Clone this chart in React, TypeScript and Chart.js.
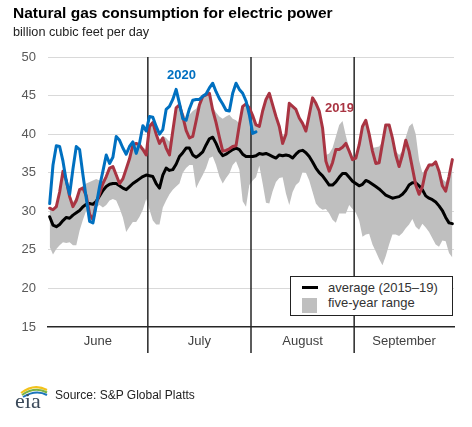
import React, { useEffect, useRef } from "react";
import { Chart, registerables } from "chart.js";

Chart.register(...registerables);

const FONT = "'Liberation Sans', Arial, Helvetica, sans-serif";

const monthNames = ["June", "July", "August", "September"];
const monthLengths = [30, 31, 31, 30];
const yTickValues = [15, 20, 25, 30, 35, 40, 45, 50];

// daily values, June 1 onward (billion cubic feet per day)
const series2020 = [
  31, 36, 38.5, 38.4, 36.5, 33.9, 32.2, 35.5, 38.4, 38, 34.7, 31.7, 28.7, 28.5, 30.8, 33.2, 35.2, 37.3, 36.2, 37,
  39.7, 39.2, 38.2, 37.4, 38.4, 39, 37.5, 38.8, 41.1, 40.4,
  42.3, 42.2, 41, 40, 40.6, 43.2, 43.6, 44.5, 45.8, 44, 42, 41.8, 43.3, 44.4, 44.5, 44.5, 44.9, 45.2, 46, 46.6,
  45.5, 44.6, 43.9, 43.1, 43, 45.3, 46.6, 45.8, 45.3, 44.3, 42.5,
  40.1, 40.3,
];

const series2019 = [
  30.4, 30.2, 30.6, 32.5, 35.2, 34, 31.9, 30.6, 31.4, 32.8, 33, 32, 29.6, 28.9, 31, 32.3, 33.6, 34.5, 35.6, 35.8,
  34.7, 33.6, 34.2, 35.5, 36.8, 38.6, 38.8, 38.6, 38, 37.3,
  41, 41.5, 40, 38.8, 39.5, 38.2, 37.3, 40.4, 43.4, 43.8, 42.3, 40.5, 39.5, 39.7, 41.7, 43.8, 44.9, 45.1, 45.3, 43.1,
  41.5, 39.6, 37.8, 37.9, 38.1, 38.4, 38.5, 41.2, 43.6, 43.9, 43.4,
  42.4, 41.2, 41, 43, 44.5, 45.3, 43.8, 42.3, 41, 38.8, 40, 44, 43.6, 43.2, 42.1, 41.4, 40.4, 42.5, 44.7, 44,
  43, 40.8, 36.5, 35.2, 36.3, 38, 38, 38.3, 38.8, 37.8, 36.7,
  36.9, 38.6, 41, 41.8, 40, 37.8, 36.2, 36.3, 38.8, 41.2, 41.2, 39.5, 37.3, 35.8, 37.3, 39.2, 37.8, 35.6, 33.4, 32.2,
  33.2, 35.2, 36, 36, 36.4, 35.2, 33.3, 32.6, 34.5, 36.7,
];

const average = [
  29.3, 28.2, 28, 28.3, 28.8, 29.2, 29.1, 29.5, 29.8, 30.1, 30.6, 30.9, 31, 30.9, 31.3, 32, 32.7, 33.2, 33.5, 33.6,
  33.6, 33.3, 33, 32.8, 33.2, 33.6, 33.9, 34.2, 34.5, 34.7,
  34.6, 34.5, 33.6, 33, 34.7, 35.6, 35.3, 35.4, 36.1, 37.1, 37.6, 38.2, 38.2, 37.3, 37, 37.3, 37.7, 38.6, 39.4, 39.6,
  38.8, 37.8, 37.2, 37.4, 37.7, 38, 38.2, 38, 37.4, 37.1, 37.1,
  37.1, 37.2, 37.5, 37.4, 37.5, 37.3, 37.1, 36.9, 37.3, 37.2, 37.3, 37.2, 36.9, 37.4, 37.8, 37.9, 37.6, 37.1, 36.4, 35.6,
  35, 34.6, 34, 33.4, 33.4, 33.8, 34.4, 34.9, 34.9, 34.4, 33.9,
  33.6, 33.3, 33.5, 34, 33.8, 33.5, 33.2, 32.9, 32.5, 32.1, 31.9, 31.7, 31.8, 31.9, 32.2, 32.7, 33.4, 33.7, 33.7, 33.3,
  32.8, 32, 31.7, 31.5, 31.2, 30.7, 30.1, 29.2, 28.5, 28.4,
];

const rangeMax = [
  30.6, 30.4, 30.8, 32.6, 35.3, 34.1, 32.3, 31.2, 31.8, 33, 33.3, 33.6, 33.8, 34, 34.2, 34, 33.9, 34.6, 35.7, 35.9,
  34.9, 34, 34.4, 35.6, 36.9, 38.7, 38.9, 38.7, 38.3, 38,
  41.2, 41.7, 40.3, 39.2, 39.8, 39.5, 39, 40.6, 43.5, 43.9, 42.9, 42, 42.5, 43, 43.3, 44, 45, 45.2, 45.4, 43.5,
  42.8, 42.3, 42, 42.3, 42.5, 42, 41.8, 41.4, 43.7, 44.1, 43.5,
  42.6, 41.4, 41.2, 43.2, 44.6, 45.4, 44, 42.5, 41.2, 39.7, 40.2, 44.1, 43.7, 43.3, 42.3, 41.6, 40.7, 42.6, 44.8, 44.1,
  43.1, 41, 37.3, 37.5, 38.2, 39.7, 41.2, 41.7, 39.8, 38.2, 37,
  37.1, 38.8, 41.2, 42, 40.2, 38.2, 38.3, 38.4, 39, 41.3, 41.3, 39.7, 37.8, 37.3, 37.8, 39.6, 41, 41.4, 40, 36.6,
  35, 35.4, 36.2, 36.2, 36.5, 35.4, 34.2, 33.8, 34.6, 36.8,
];

const rangeMin = [
  25.4, 24.4, 25.1, 25.6, 26, 25.9, 26, 25.6, 25.6, 27.5, 28.9, 30.1, 29.4, 28.8, 30.6, 30.8, 30.5, 30.8, 31.4, 31.6,
  31.4, 30.4, 29.2, 27.3, 28, 28.6, 28.6, 29.3, 30.2, 31.6,
  30.2, 28.8, 28.3, 28.3, 30.5, 31.4, 32.2, 32.8, 33.2, 33.6, 35, 35.6, 36, 36, 33, 33.9, 34.7, 35.6, 36.9, 37.1,
  36, 34.5, 33.6, 34.3, 34.9, 36, 36.5, 35.4, 31.3, 30.6, 33.4,
  34, 34.4, 35.9, 33.6, 31.1, 31, 32.6, 33.8, 34.3, 34.4, 32.3, 30.8, 32.5, 33.4, 33.8, 35.1, 35, 34, 32.5, 31,
  30.5, 30.2, 30.3, 29.7, 28.9, 28.5, 29.7, 29.7, 29.7, 30.8, 30.3,
  29.8, 28.8, 26.7, 27, 27.1, 25.7, 24.8, 23.8, 23, 24.2, 25.7, 27, 27, 26.8, 27.2, 27.8, 28.3, 29, 28, 27.6,
  28.4, 27.9, 27.3, 26.5, 25.7, 25.4, 26.2, 26.1, 24.6, 24,
];

const COLOR_2020 = "#0070c0";
const COLOR_2019 = "#a93442";
const COLOR_RANGE = "#bfbfbf";

export default function App() {
  const canvasRef = useRef<HTMLCanvasElement | null>(null);

  useEffect(() => {
    const canvas = canvasRef.current;
    if (!canvas) return;

    const monthStarts: number[] = [];
    let total = 0;
    for (const len of monthLengths) {
      monthStarts.push(total);
      total += len;
    }
    const monthMids = monthLengths.map((len, k) => monthStarts[k] + len / 2);
    const toPoints = (arr: number[]) => arr.map((y, i) => ({ x: i + 0.5, y }));
    const RANGE_MAX_INDEX = 1;

    const dividerPlugin = {
      id: "monthDividers",
      afterDatasetDraw(chart: any, args: any) {
        if (args.index !== RANGE_MAX_INDEX) return;
        const { ctx, chartArea, scales } = chart;
        ctx.save();
        ctx.strokeStyle = "#262626";
        ctx.lineWidth = 1.5;
        monthStarts.slice(1).forEach((v) => {
          const x = scales.x.getPixelForValue(v);
          ctx.beginPath();
          ctx.moveTo(x, chartArea.top);
          ctx.lineTo(x, chartArea.bottom + 26);
          ctx.stroke();
        });
        ctx.restore();
      },
    };

    const chart = new Chart(canvas, {
      type: "line",
      data: {
        datasets: [
          {
            label: "min",
            data: toPoints(rangeMin),
            borderColor: "rgba(0,0,0,0)",
            borderWidth: 0,
            fill: false,
            order: 4,
          },
          {
            label: "five-year range",
            data: toPoints(rangeMax),
            borderColor: "rgba(0,0,0,0)",
            borderWidth: 0,
            backgroundColor: COLOR_RANGE,
            fill: "-1",
            order: 3,
          },
          {
            label: "average (2015–19)",
            data: toPoints(average),
            borderColor: "#000000",
            borderWidth: 3,
            fill: false,
            order: 2,
          },
          {
            label: "2019",
            data: toPoints(series2019),
            borderColor: COLOR_2019,
            borderWidth: 3,
            fill: false,
            order: 1,
          },
          {
            label: "2020",
            data: toPoints(series2020),
            borderColor: COLOR_2020,
            borderWidth: 3,
            fill: false,
            order: 0,
          },
        ],
      },
      options: {
        responsive: false,
        animation: false,
        devicePixelRatio: 1,
        layout: { padding: { left: 0, right: 18, top: 57, bottom: 0 } },
        elements: {
          point: { radius: 0, hoverRadius: 0 },
          line: { tension: 0, borderJoinStyle: "round", borderCapStyle: "round" },
        },
        plugins: {
          legend: { display: false },
          tooltip: { enabled: false },
          title: { display: false },
        },
        events: [],
        scales: {
          x: {
            type: "linear",
            min: 0,
            max: total,
            afterBuildTicks: (axis: any) => {
              axis.ticks = monthMids.map((v) => ({ value: v }));
            },
            afterFit: (axis: any) => {
              axis.height = 100;
            },
            grid: { display: false, drawTicks: false },
            border: { display: true, color: "#262626", width: 1.5 },
            ticks: {
              autoSkip: false,
              maxRotation: 0,
              padding: 7,
              color: "#404040",
              font: { family: FONT, size: 13 },
              callback: (value: any) => {
                const k = monthMids.indexOf(Number(value));
                return k >= 0 ? monthNames[k] : "";
              },
            },
          },
          y: {
            min: 15,
            max: 50,
            afterBuildTicks: (axis: any) => {
              axis.ticks = yTickValues.map((v) => ({ value: v }));
            },
            afterFit: (axis: any) => {
              axis.width = 48;
            },
            grid: {
              color: (ctx: any) => (ctx.tick && ctx.tick.value === 15 ? "rgba(0,0,0,0)" : "#d9d9d9"),
              lineWidth: 1,
              drawTicks: false,
            },
            border: { display: false },
            ticks: {
              padding: 12,
              color: "#595959",
              font: { family: FONT, size: 13 },
            },
          },
        },
      },
      plugins: [dividerPlugin],
    } as any);

    return () => chart.destroy();
  }, []);

  const abs = (extra: React.CSSProperties): React.CSSProperties => ({
    position: "absolute",
    whiteSpace: "nowrap",
    ...extra,
  });

  return (
    <div
      style={{
        position: "absolute",
        left: 0,
        top: 0,
        width: 472,
        height: 427,
        background: "#ffffff",
        fontFamily: FONT,
        overflow: "hidden",
      }}
    >
      <canvas
        ref={canvasRef}
        width={472}
        height={427}
        style={{ position: "absolute", left: 0, top: 0, width: 472, height: 427 }}
      />
      <div style={abs({ left: 13, top: 4, fontSize: 15.5, fontWeight: "bold", lineHeight: "18px", color: "#000" })}>
        Natural gas consumption for electric power
      </div>
      <div style={abs({ left: 13, top: 25, fontSize: 12.7, lineHeight: "14px", color: "#222" })}>
        billion cubic feet per day
      </div>
      <div style={abs({ left: 167, top: 67, fontSize: 13, fontWeight: "bold", lineHeight: "15px", color: COLOR_2020 })}>
        2020
      </div>
      <div style={abs({ left: 325, top: 100, fontSize: 13, fontWeight: "bold", lineHeight: "15px", color: COLOR_2019 })}>
        2019
      </div>

      <div
        style={abs({
          left: 290,
          top: 276,
          width: 163,
          height: 40,
          boxSizing: "border-box",
          border: "1.5px solid #222",
          background: "#ffffff",
        })}
      >
        <div style={abs({ left: 11, top: 9, width: 16, height: 3, background: "#000" })} />
        <div style={abs({ left: 37, top: 3, fontSize: 13, lineHeight: "15px", color: "#333" })}>
          average (2015–19)
        </div>
        <div style={abs({ left: 11, top: 21, width: 15, height: 15, background: COLOR_RANGE })} />
        <div style={abs({ left: 37, top: 18, fontSize: 13, lineHeight: "15px", color: "#333" })}>
          five-year range
        </div>
      </div>

      <svg
        width={40}
        height={30}
        viewBox="0 0 40 30"
        style={{ position: "absolute", left: 12, top: 383 }}
      >
        <path d="M9 10 Q22 0 35 7" stroke="#f2c21b" strokeWidth={2} fill="none" />
        <path d="M10 12 Q23 3 35 9.5" stroke="#7bb342" strokeWidth={2} fill="none" />
        <path d="M11 14 Q24 6 35 12" stroke="#1b75bb" strokeWidth={2} fill="none" />
        <text x={3} y={25} fontFamily="'Liberation Serif', 'DejaVu Serif', serif" fontSize={22} fill="#3b4a5a">
          eia
        </text>
      </svg>
      <div style={abs({ left: 55, top: 388, fontSize: 12, lineHeight: "14px", color: "#222" })}>
        Source: S&amp;P Global Platts
      </div>
    </div>
  );
}
